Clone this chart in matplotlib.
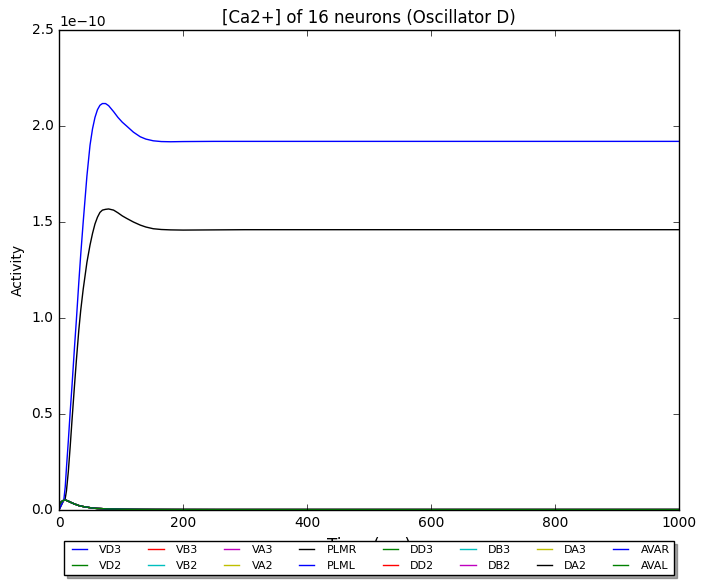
import numpy as np
import matplotlib
matplotlib.use('Agg')
import matplotlib.pyplot as plt

plt.style.use('classic')

# neuron order as plotted (legend fills column-wise)
neurons = ['VD3', 'VD2', 'VB3', 'VB2', 'VA3', 'VA2', 'PLMR', 'PLML',
           'DD3', 'DD2', 'DB3', 'DB2', 'DA3', 'DA2', 'AVAR', 'AVAL']

# time samples (ms)
t = [0, 3, 6, 8, 10, 12, 15, 18, 21, 25, 28, 32, 35, 39, 42, 45, 50, 54,
     58, 62, 66, 70, 75, 80, 88, 95, 102, 109, 120, 131, 140, 152, 165,
     180, 200, 250, 300, 400, 500, 600, 700, 800, 900, 1000]

# PLML (blue, high), units of 1e-10
plml = [0.0, 0.02, 0.04, 0.06, 0.12, 0.22, 0.36, 0.51, 0.65, 0.85, 0.99,
        1.19, 1.33, 1.50, 1.62, 1.74, 1.90, 1.985, 2.045, 2.085, 2.108, 2.117,
        2.117, 2.106, 2.075, 2.045, 2.02, 2.0, 1.968, 1.944, 1.932, 1.923,
        1.919, 1.918, 1.919, 1.92, 1.92, 1.92, 1.92, 1.92, 1.92, 1.92, 1.92,
        1.92]

# PLMR (black, high)
plmr = [0.0, 0.02, 0.04, 0.05, 0.06, 0.10, 0.20, 0.33, 0.47, 0.65, 0.78,
        0.94, 1.04, 1.15, 1.22, 1.29, 1.38, 1.44, 1.49, 1.525, 1.55, 1.562,
        1.566, 1.568, 1.562, 1.548, 1.532, 1.519, 1.500, 1.484, 1.474, 1.465,
        1.461, 1.459, 1.458, 1.459, 1.46, 1.46, 1.46, 1.46, 1.46, 1.46, 1.46,
        1.46]

# remaining neurons stay near zero (small early bump)
low = [0.025, 0.04, 0.048, 0.051, 0.052, 0.050, 0.046, 0.041, 0.037, 0.031,
       0.028, 0.023, 0.021, 0.018, 0.016, 0.015, 0.012, 0.010, 0.009, 0.008,
       0.0075, 0.007, 0.006, 0.0055, 0.005, 0.0045, 0.004, 0.0037, 0.0033,
       0.003, 0.0028, 0.0026, 0.0025, 0.0024, 0.0023, 0.0022, 0.0022, 0.0022,
       0.0022, 0.0022, 0.0022, 0.0022, 0.0022, 0.0022]

colors = ['b', 'g', 'r', 'c', 'm', 'y', 'k']

fig = plt.figure(figsize=(7.06, 5.84), dpi=100, facecolor='white')
ax = fig.add_axes([0.0836, 0.1267, 0.8782, 0.8219])

tt = np.array(t)
for i, name in enumerate(neurons):
    if name == 'PLML':
        vals = plml
    elif name == 'PLMR':
        vals = plmr
    else:
        vals = low
    ax.plot(tt, np.array(vals) * 1e-10, color=colors[i % 7], lw=1.0, label=name)

ax.set_xlim(0, 1000)
ax.set_ylim(0, 2.5e-10)
ax.set_xticks([0, 200, 400, 600, 800, 1000])
ax.set_yticks(np.arange(0, 2.51e-10, 0.5e-10))
ax.set_title('[Ca2+] of 16 neurons (Oscillator D)', fontsize=12)
ax.set_xlabel('Time (ms)')
ax.set_ylabel('Activity', fontsize=10)
ax.tick_params(labelsize=10)
ax.yaxis.get_offset_text().set_fontsize(10)

ax.legend(loc='upper center', bbox_to_anchor=(0.5, -0.064), ncol=8,
          fontsize=8, shadow=True, fancybox=False, handlelength=2.0,
          columnspacing=2.0, borderaxespad=0)

fig.savefig('out.png', dpi=100, facecolor='white')
